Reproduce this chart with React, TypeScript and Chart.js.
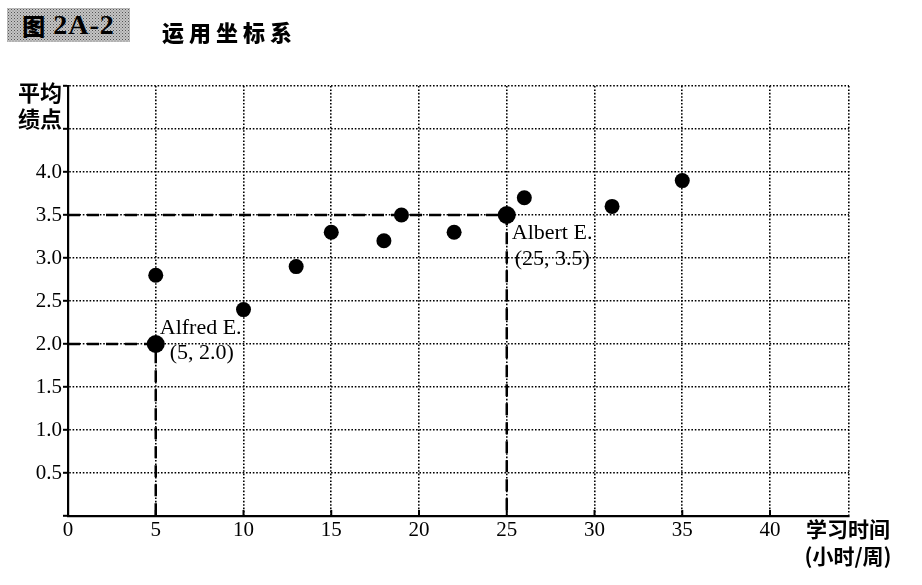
import React, { useEffect, useRef } from 'react';
import { Chart, registerables } from 'chart.js';

Chart.register(...registerables);

// ---- data ----
const studyHours = [5, 10, 13, 15, 18, 19, 22, 26, 31, 35];
const gpaValues = [2.8, 2.4, 2.9, 3.3, 3.2, 3.5, 3.3, 3.7, 3.6, 3.9];

const highlightNames = ['Alfred E.', 'Albert E.'];
const highlightHours = [5, 25];
const highlightGpa = [2.0, 3.5];

const xTickValues = [0, 5, 10, 15, 20, 25, 30, 35, 40];
const xMax = 44.5;
const yTickValues = [0.5, 1.0, 1.5, 2.0, 2.5, 3.0, 3.5, 4.0];
const yGridValues = [0, 0.5, 1.0, 1.5, 2.0, 2.5, 3.0, 3.5, 4.0, 4.5, 5.0];

const titleBoxText = ['图', '2A-2'];
const titleText = '运用坐标系';
const yTitleLines = ['平均', '绩点'];
const xTitleLines = ['学习时间', '(小时/周)'];

// ---- styles ----
const labelOffsets = [
  { name: [4, -10], coord: [14, 15] },
  { name: [5, 24], coord: [8, 50] },
];

const SERIF = '"Liberation Serif", "Times New Roman", serif';
const CJK = '"Noto Sans CJK SC", "Noto Sans", sans-serif';
const GRID_DASH = [1.6, 1.8];

const labelPlugin = {
  id: 'pointLabels',
  afterDatasetsDraw(chart: any) {
    const { ctx, scales, chartArea } = chart;
    ctx.save();
    // inward tick marks on x axis
    ctx.strokeStyle = '#000';
    ctx.lineWidth = 2;
    ctx.setLineDash([]);
    xTickValues.forEach((v) => {
      if (v === 0) return;
      const px = scales.x.getPixelForValue(v);
      ctx.beginPath();
      ctx.moveTo(px, chartArea.bottom);
      ctx.lineTo(px, chartArea.bottom - 6);
      ctx.stroke();
    });
    ctx.fillStyle = '#000';
    ctx.font = `22px ${SERIF}`;
    ctx.textBaseline = 'alphabetic';
    ctx.textAlign = 'left';
    highlightNames.forEach((name, i) => {
      const px = scales.x.getPixelForValue(highlightHours[i]);
      const py = scales.y.getPixelForValue(highlightGpa[i]);
      const off = labelOffsets[i];
      ctx.fillText(name, px + off.name[0], py + off.name[1]);
      ctx.fillText(
        `(${highlightHours[i]}, ${highlightGpa[i].toFixed(1)})`,
        px + off.coord[0],
        py + off.coord[1]
      );
    });
    ctx.restore();
  },
};

export default function App() {
  const ref = useRef<HTMLCanvasElement>(null);

  useEffect(() => {
    const guideDatasets = highlightHours.map((h, i) => ({
      type: 'line' as const,
      data: [
        { x: 0, y: highlightGpa[i] },
        { x: h, y: highlightGpa[i] },
        { x: h, y: 0 },
      ],
      showLine: true,
      borderColor: '#000',
      borderWidth: 2.5,
      borderDash: [12, 7],
      pointRadius: 0,
      fill: false,
      tension: 0,
    }));

    const chart = new Chart(ref.current as HTMLCanvasElement, {
      type: 'scatter',
      data: {
        datasets: [
          {
            data: highlightHours.map((h, i) => ({ x: h, y: highlightGpa[i] })),
            backgroundColor: '#000',
            borderWidth: 0,
            pointRadius: 9,
          },
          {
            data: studyHours.map((h, i) => ({ x: h, y: gpaValues[i] })),
            backgroundColor: '#000',
            borderWidth: 0,
            pointRadius: 7.5,
          },
          ...guideDatasets,
        ] as any,
      },
      options: {
        animation: false,
        responsive: true,
        maintainAspectRatio: false,
        layout: { padding: { left: 0, top: 86, right: 73, bottom: 0 } },
        plugins: {
          legend: { display: false },
          tooltip: { enabled: false },
        },
        scales: {
          x: {
            type: 'linear',
            min: 0,
            max: xMax,
            afterBuildTicks: (scale: any) => {
              scale.ticks = [...xTickValues, xMax].map((v) => ({ value: v }));
            },
            afterFit: (scale: any) => {
              scale.height = 69;
            },
            ticks: {
              color: '#000',
              font: { family: SERIF, size: 21 },
              padding: 2,
              maxRotation: 0,
              autoSkip: false,
              callback: (v: any) => (xTickValues.includes(Number(v)) ? String(v) : ''),
            },
            grid: {
              color: '#000',
              lineWidth: 1.6,
              drawTicks: false,
            },
            border: { display: true, color: '#000', width: 2.2, dash: GRID_DASH },
          },
          y: {
            type: 'linear',
            min: 0,
            max: 5,
            afterBuildTicks: (scale: any) => {
              scale.ticks = yGridValues.map((v) => ({ value: v }));
            },
            afterFit: (scale: any) => {
              scale.width = 68;
            },
            ticks: {
              color: '#000',
              font: { family: SERIF, size: 21 },
              padding: 1,
              autoSkip: false,
              callback: (v: any) =>
                yTickValues.some((t) => Math.abs(t - Number(v)) < 1e-9)
                  ? Number(v).toFixed(1)
                  : '',
            },
            grid: {
              color: '#000',
              lineWidth: 1.6,
              tickLength: 5,
              tickColor: '#000',
              tickWidth: 2,
              tickBorderDash: [],
            } as any,
            border: { display: true, color: '#000', width: 2.2, dash: GRID_DASH },
          },
        },
      } as any,
      plugins: [labelPlugin],
    });
    return () => chart.destroy();
  }, []);

  const boxBg =
    'radial-gradient(circle, #555 0.7px, transparent 1px) 0 0 / 3px 3px, radial-gradient(circle, #777 0.6px, transparent 0.9px) 1.5px 1.5px / 3px 3px, #c4c4c4';

  return (
    <div
      style={{
        position: 'fixed',
        left: 0,
        top: 0,
        width: 922,
        height: 585,
        background: '#fff',
        overflow: 'hidden',
      }}
    >
      <canvas ref={ref} style={{ position: 'absolute', left: 0, top: 0 }} />
      <div
        style={{
          position: 'absolute',
          left: 7,
          top: 8,
          width: 123,
          height: 34,
          background: boxBg,
          display: 'flex',
          alignItems: 'center',
          justifyContent: 'center',
          color: '#000',
          whiteSpace: 'nowrap',
        }}
      >
        <span style={{ fontFamily: CJK, fontSize: 23, fontWeight: 900 }}>{titleBoxText[0]}</span>
        <span
          style={{
            fontFamily: SERIF,
            fontSize: 28,
            fontWeight: 700,
            marginLeft: 8,
            letterSpacing: 1,
          }}
        >
          {titleBoxText[1]}
        </span>
      </div>
      <div
        style={{
          position: 'absolute',
          left: 162,
          top: 16,
          fontFamily: CJK,
          fontSize: 22,
          fontWeight: 900,
          letterSpacing: 5,
          lineHeight: '30px',
          color: '#000',
          whiteSpace: 'nowrap',
        }}
      >
        {titleText}
      </div>
      <div
        style={{
          position: 'absolute',
          left: 18,
          top: 78,
          fontFamily: CJK,
          fontSize: 22,
          fontWeight: 700,
          lineHeight: '26px',
          color: '#000',
        }}
      >
        {yTitleLines.map((l) => (
          <div key={l}>{l}</div>
        ))}
      </div>
      <div
        style={{
          position: 'absolute',
          left: 798,
          top: 515,
          width: 100,
          textAlign: 'center',
          fontFamily: CJK,
          fontSize: 21,
          fontWeight: 700,
          lineHeight: '27px',
          color: '#000',
          whiteSpace: 'nowrap',
        }}
      >
        {xTitleLines.map((l) => (
          <div key={l}>{l}</div>
        ))}
      </div>
    </div>
  );
}
